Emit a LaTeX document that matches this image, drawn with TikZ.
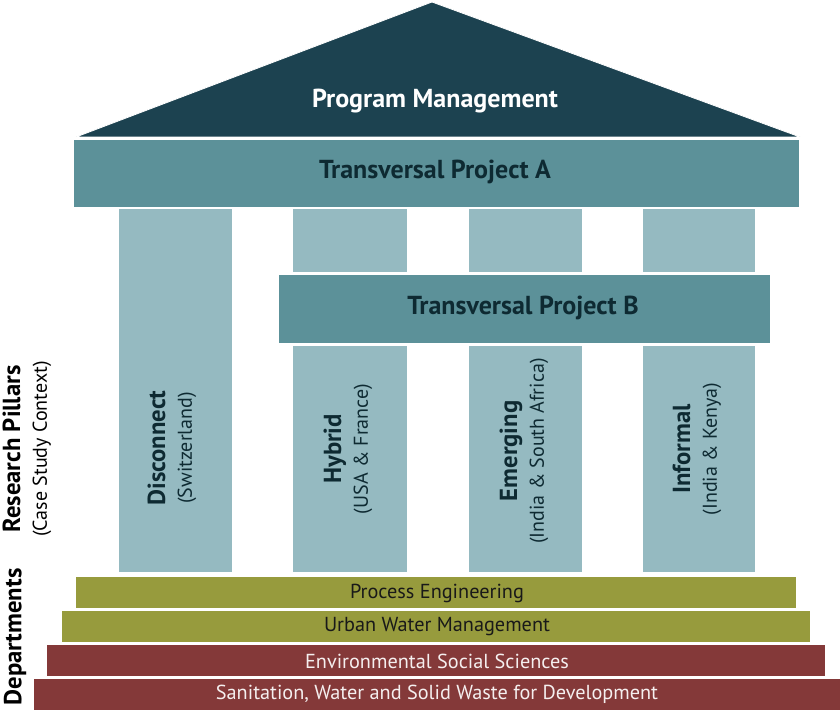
\documentclass[tikz,border=0pt]{standalone}
\usepackage{fontspec}
\setmainfont{PT Sans}
\usepackage{tikz}
\usetikzlibrary{calc}
\definecolor{roofblue}{HTML}{1C4250}
\definecolor{beamteal}{HTML}{5C9199}
\definecolor{pillarblue}{HTML}{95BAC1}
\definecolor{deptolive}{HTML}{979B3D}
\definecolor{deptred}{HTML}{843939}
\definecolor{inkblue}{HTML}{0E2A32}
\def\pillarname#1{{\fontsize{18.5}{20}\selectfont\bfseries #1}}
\tikzset{
  block/.style={draw=white, line width=0.6pt},
  beamtext/.style={inner sep=0pt, text=inkblue, font=\fontsize{19.5}{22}\selectfont\bfseries},
  pillartext/.style={inner sep=0pt, rotate=90, align=center, text=inkblue, font=\fontsize{15}{20}\selectfont},
  depttext/.style={inner sep=0pt, font=\fontsize{15.2}{17}\selectfont},
}

\begin{document}
\begin{tikzpicture}[x=0.75pt, y=-0.75pt]
			%%%%% START %%%%%
			\useasboundingbox (0,0) rectangle (840,712);
			
			% roof
			\draw[block, fill=roofblue] (76,137) -- (432,2) -- (800,137) -- cycle;
			\node (progmgmt) [beamtext, text=white] at (435,101) {Program Management};
			
			% transversal A
			\draw[block, fill=beamteal] (73,139) rectangle (799,207);
			\node (transA) [beamtext] at (435,172) {Transversal Project A};
			
			% pillars
			\draw[block, fill=pillarblue] (118,208) rectangle (232,572);
			\draw[block, fill=pillarblue] (292,208) rectangle (407,272);
			\draw[block, fill=pillarblue] (468,208) rectangle (582,272);
			\draw[block, fill=pillarblue] (642,208) rectangle (755,272);
			\draw[block, fill=pillarblue] (292,345) rectangle (407,572);
			\draw[block, fill=pillarblue] (468,345) rectangle (582,572);
			\draw[block, fill=pillarblue] (642,345) rectangle (755,572);
			
			% transversal B
			\draw[block, fill=beamteal] (278,274) rectangle (770,343);
			\node (transB) [beamtext] at (523,308) {Transversal Project B};
			
			\node (disconnect) [pillartext] at (172,448) {\pillarname{Disconnect}\\(Switzerland)};
			\node (hybrid) [pillartext] at (348,449) {\pillarname{Hybrid}\\(USA \& France)};
			\node (emerging) [pillartext] at (524,451) {\pillarname{Emerging}\\(India \& South Africa)};
			\node (informal) [pillartext] at (697,449) {\pillarname{Informal}\\(India \& Kenya)};
			
			% departments
			\draw[block, fill=deptolive] (75,576) rectangle (796,608);
			\node (proceng) [depttext, text=black!90] at (437,593) {Process Engineering};
			\draw[block, fill=deptolive] (61,610) rectangle (810,642);
			\node (urbwater) [depttext, text=black!90] at (437,627) {Urban Water Management};
			\draw[block, fill=deptred] (46,644) rectangle (825,676);
			\node (envsoc) [depttext, text=white!92!deptred] at (437,661) {Environmental Social Sciences};
			\draw[block, fill=deptred] (33,678) rectangle (840,710);
			\node (sandec) [depttext, text=white!92!deptred] at (437,694) {Sanitation, Water and Solid Waste for Development};
			
			% side labels
			\node (pillarslbl) [pillartext, text=black] at (27,449) {\pillarname{Research Pillars}\\(Case Study Context)};
			\node (deptslbl) [pillartext, text=black, font=\fontsize{18.5}{20}\selectfont\bfseries] at (15,637) {Departments};
			
			%%%%% END %%%%%
\end{tikzpicture}
\end{document}
